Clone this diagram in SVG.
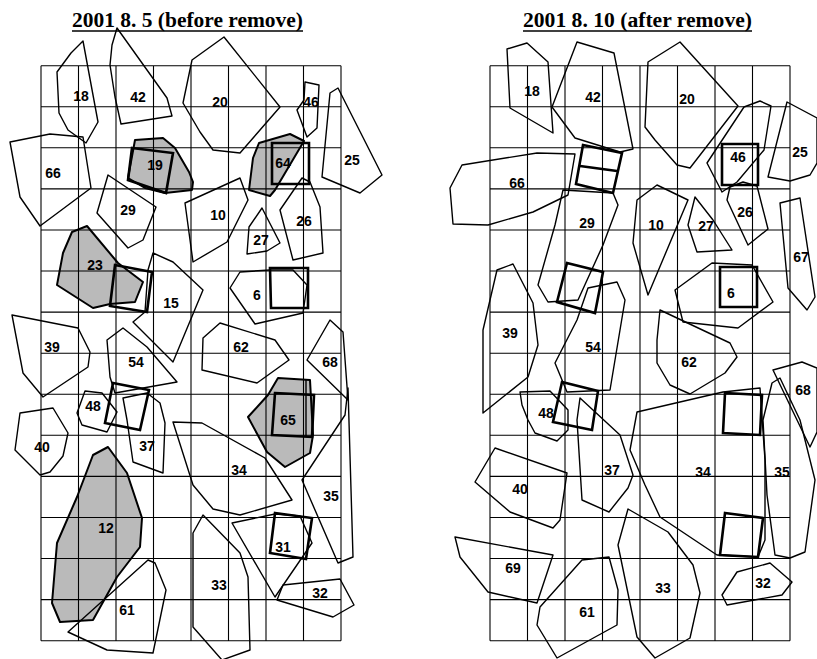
<svg xmlns="http://www.w3.org/2000/svg" width="817" height="659" viewBox="0 0 817 659">
<style>
.bg{fill:#fff}
.grid{fill:none;stroke:#000;stroke-width:1.1}
.p{fill:none;stroke:#000;stroke-width:1.4;stroke-linejoin:round}
.sh{fill:#000;fill-opacity:0.27;stroke:#000;stroke-width:2;stroke-linejoin:round}
.b{fill:none;stroke:#000;stroke-width:2.6;stroke-linejoin:miter}
.t{font-family:"Liberation Serif",serif;font-weight:bold;font-size:20px}
.n{font-family:"Liberation Sans",Arial,sans-serif;font-weight:bold;font-size:14px;text-anchor:middle}
.u{stroke:#000;stroke-width:1.5}
</style>
<rect class="bg" x="0" y="0" width="817" height="659"/>
<g id="titles">
<text class="t" x="72" y="27" textLength="231" lengthAdjust="spacingAndGlyphs">2001 8. 5 (before remove)</text>
<line class="u" x1="72" y1="31" x2="303" y2="31"/>
<text class="t" x="523" y="27" textLength="229" lengthAdjust="spacingAndGlyphs">2001 8. 10 (after remove)</text>
<line class="u" x1="523" y1="31" x2="752" y2="31"/>
</g>
<g id="grid-left">
<path class="grid" d="M41,65.7V640.7M78.5,65.7V640.7M116,65.7V640.7M153.5,65.7V640.7M191,65.7V640.7M228.5,65.7V640.7M266,65.7V640.7M303.5,65.7V640.7M341,65.7V640.7M41,65.7H341M41,106.8H341M41,147.8H341M41,188.9H341M41,230H341M41,271H341M41,312.1H341M41,353.2H341M41,394.3H341M41,435.3H341M41,476.4H341M41,517.5H341M41,558.5H341M41,599.6H341M41,640.7H341"/>
</g>
<g id="grid-right">
<path class="grid" d="M490,65.7V640.7M527.5,65.7V640.7M565,65.7V640.7M602.5,65.7V640.7M640,65.7V640.7M677.5,65.7V640.7M715,65.7V640.7M752.5,65.7V640.7M790,65.7V640.7M490,65.7H790M490,106.8H790M490,147.8H790M490,188.9H790M490,230H790M490,271H790M490,312.1H790M490,353.2H790M490,394.3H790M490,435.3H790M490,476.4H790M490,517.5H790M490,558.5H790M490,599.6H790M490,640.7H790"/>
</g>
<g id="left">
<g id="L18"><polygon class="p" points="83,41 98,122 86,143 68,130 59,113 57,72 71,53"/><text class="n" x="81" y="101">18</text></g>
<g id="L42"><polygon class="p" points="117,28 167,98 172,116 121,124 115,97 110,65 112,45"/><text class="n" x="138" y="102">42</text></g>
<g id="L20"><polygon class="p" points="224,37 280,107 240,153 213,150 200,132 183,103 192,60"/><text class="n" x="220" y="107">20</text></g>
<g id="L46"><polygon class="p" points="305,82 319,85 317,128 307,137 297,110 304,100"/><text class="n" x="311" y="107">46</text></g>
<g id="L25"><polygon class="p" points="338,88 382,175 360,193 322,177 330,93"/><text class="n" x="352" y="165">25</text></g>
<g id="L66"><polygon class="p" points="10,142 50,134 83,137 91,188 40,226 20,197"/><text class="n" x="53" y="178">66</text></g>
<g id="L19"><polygon class="sh" points="135,140 163,138 175,148 189,172 193,182 192,190 165,193 145,188 128,178"/><polygon class="b" points="132,148 173,153 166,193 128,180"/><text class="n" x="155" y="170">19</text></g>
<g id="L64"><polygon class="sh" points="259,143 290,134 304,141 275,190 270,196 249,190 253,158"/><polygon class="b" points="272,143 309,143 309,184 272,184"/><text class="n" x="283" y="168">64</text></g>
<g id="L29"><polygon class="p" points="108,175 156,207 143,240 128,248 97,213"/><text class="n" x="128" y="215">29</text></g>
<g id="L10"><polygon class="p" points="185,203 240,178 248,200 227,242 193,262"/><text class="n" x="218" y="220">10</text></g>
<g id="L26"><polygon class="p" points="302,178 310,182 320,207 323,253 293,260 280,210"/><text class="n" x="304" y="226">26</text></g>
<g id="L27"><polygon class="p" points="262,208 280,243 267,251 247,254 249,227"/><text class="n" x="261" y="245">27</text></g>
<g id="L23"><polygon class="sh" points="72,232 87,226 118,263 143,282 135,302 110,304 93,308 57,285 63,253"/><polygon class="b" points="115,265 152,272 147,312 110,306"/><text class="n" x="95" y="270">23</text></g>
<g id="L15"><polygon class="p" points="153,253 173,262 203,290 173,362 133,322 145,312 148,270"/><text class="n" x="171" y="308">15</text></g>
<g id="L6"><polygon class="p" points="230,288 240,272 270,270 293,270 307,285 303,313 255,324"/><polygon class="b" points="270,268 308,268 308,308 271,308"/><text class="n" x="257" y="300">6</text></g>
<g id="L39"><polygon class="p" points="12,315 78,328 90,352 88,367 43,397 23,373"/><text class="n" x="52" y="352">39</text></g>
<g id="L54"><polygon class="p" points="107,340 123,328 147,347 177,382 115,393 110,377"/><text class="n" x="136" y="367">54</text></g>
<g id="L62"><polygon class="p" points="203,338 220,323 275,340 289,360 257,383 202,370"/><text class="n" x="241" y="352">62</text></g>
<g id="L68"><polygon class="p" points="307,360 330,320 343,332 348,400"/><text class="n" x="330" y="367">68</text></g>
<g id="L65"><polygon class="sh" points="278,378 310,380 313,435 310,453 285,467 267,452 248,417 268,395"/><polygon class="b" points="275,393 314,395 312,437 272,435"/><line class="p" x1="306" y1="380" x2="306" y2="437"/><text class="n" x="288" y="425">65</text></g>
<g id="L48"><polygon class="p" points="85,391 102,393 117,412 107,432 82,425 77,413"/><text class="n" x="93" y="411">48</text></g>
<g id="L37"><polygon class="p" points="123,398 147,393 160,403 165,423 163,473 133,462 127,420"/><polygon class="b" points="113,383 149,390 140,430 105,423"/><text class="n" x="147" y="451">37</text></g>
<g id="L40"><polygon class="p" points="15,450 20,413 53,408 68,433 63,456 50,472 40,475"/><text class="n" x="42" y="452">40</text></g>
<g id="L34"><polygon class="p" points="173,422 202,423 265,458 292,500 240,515 213,509 193,485"/><text class="n" x="239" y="475">34</text></g>
<g id="L35"><polygon class="p" points="348,388 353,557 338,563 302,480 345,415"/><text class="n" x="331" y="501">35</text></g>
<g id="L12"><polygon class="sh" points="108,447 93,455 77,497 57,543 52,603 60,622 93,620 117,577 140,547 142,518 127,473"/><text class="n" x="106" y="533">12</text></g>
<g id="L31"><polygon class="p" points="232,523 275,514 300,516 312,543 275,597"/><polygon class="b" points="275,513 312,518 306,559 270,553"/><text class="n" x="283" y="552">31</text></g>
<g id="L32"><polygon class="p" points="277,600 283,585 340,579 354,605 333,617"/><text class="n" x="320" y="598">32</text></g>
<g id="L33"><polygon class="p" points="203,515 240,553 248,577 250,650 222,660 193,627 193,533"/><text class="n" x="219" y="590">33</text></g>
<g id="L61"><polygon class="p" points="68,632 148,560 155,563 166,590 153,653 107,650"/><text class="n" x="127" y="615">61</text></g>
</g>
<g id="right">
<g id="R18"><polygon class="p" points="507,49 527,43 548,62 553,133 510,108"/><text class="n" x="532" y="96">18</text></g>
<g id="R42"><polygon class="p" points="577,42 614,53 633,149 620,152 575,138 552,107"/><text class="n" x="593" y="102">42</text></g>
<g id="R20"><polygon class="p" points="680,42 738,106 690,168 677,165 655,140 645,127 648,62"/><text class="n" x="687" y="104">20</text></g>
<g id="R46"><polygon class="p" points="707,163 744,107 760,101 771,106 764,150 737,182 722,192"/><polygon class="b" points="722,144 758,144 758,185 722,185"/><text class="n" x="738" y="162">46</text></g>
<g id="R25"><polygon class="p" points="787,102 817,118 817,163 810,175 790,181 768,177"/><text class="n" x="800" y="157">25</text></g>
<g id="R66"><polygon class="p" points="450,188 462,165 537,153 575,154 568,195 533,212 488,225 453,224"/><text class="n" x="517" y="188">66</text></g>
<g id="R29"><polygon class="b" points="583,145 622,153 613,193 576,184"/><line class="b" x1="580" y1="166" x2="617" y2="171"/><polygon class="p" points="563,190 613,193 618,205 603,245 578,300 548,302 538,285 555,225"/><polygon class="b" points="567,263 603,272 595,313 557,302"/><text class="n" x="587" y="228">29</text></g>
<g id="R10"><polygon class="p" points="637,200 657,185 688,200 648,295 633,243"/><text class="n" x="656" y="230">10</text></g>
<g id="R27"><polygon class="p" points="695,197 713,220 732,250 697,252 688,225"/><text class="n" x="706" y="231">27</text></g>
<g id="R26"><polygon class="p" points="730,187 743,182 757,186 768,229 748,245 727,200"/><text class="n" x="745" y="217">26</text></g>
<g id="R67"><polygon class="p" points="780,203 800,198 815,297 807,310 788,288"/><text class="n" x="801" y="262">67</text></g>
<g id="R6"><polygon class="p" points="675,290 712,263 752,265 773,302 738,328 683,322"/><polygon class="b" points="720,267 757,267 757,307 720,307"/><text class="n" x="731" y="298">6</text></g>
<g id="R39"><polygon class="p" points="497,270 513,264 533,303 538,345 528,377 483,413 483,330"/><text class="n" x="510" y="338">39</text></g>
<g id="R54"><polygon class="p" points="588,288 617,282 625,300 610,390 567,392 555,363 577,320"/><text class="n" x="593" y="352">54</text></g>
<g id="R62"><polygon class="p" points="660,310 730,343 737,357 725,373 690,394 670,385 657,363 657,340"/><text class="n" x="689" y="367">62</text></g>
<g id="R68"><polygon class="p" points="773,370 802,362 817,368 817,432 810,447"/><text class="n" x="803" y="395">68</text></g>
<g id="R35"><polygon class="p" points="772,383 780,378 800,420 815,480 805,552 790,558 775,555 767,495 763,420"/><text class="n" x="782" y="477">35</text></g>
<g id="R48"><polygon class="p" points="520,392 550,391 568,410 568,430 557,441 535,433 528,420 522,405"/><polygon class="b" points="562,382 598,391 592,430 553,422"/><text class="n" x="546" y="418">48</text></g>
<g id="R37"><polygon class="p" points="580,398 620,435 633,475 628,488 609,512 582,500 577,420"/><text class="n" x="612" y="475">37</text></g>
<g id="R34"><polygon class="p" points="637,412 723,392 760,388 765,460 765,540 758,557 717,555 660,517 645,485 630,450"/><polygon class="b" points="725,393 762,395 760,435 723,433"/><polygon class="b" points="725,513 763,518 758,557 720,555"/><text class="n" x="703" y="477">34</text></g>
<g id="R40"><polygon class="p" points="495,448 567,473 560,520 553,528 510,512 475,482"/><text class="n" x="520" y="494">40</text></g>
<g id="R69"><polygon class="p" points="455,537 553,555 537,603 488,592 460,557"/><text class="n" x="513" y="573">69</text></g>
<g id="R61"><polygon class="p" points="582,560 609,557 618,590 617,625 557,658 537,625 540,607"/><text class="n" x="587" y="617">61</text></g>
<g id="R33"><polygon class="p" points="628,509 668,532 693,565 700,593 690,638 655,658 637,637 618,545"/><text class="n" x="663" y="593">33</text></g>
<g id="R32"><polygon class="p" points="737,572 770,563 792,582 782,595 727,605 722,595"/><text class="n" x="763" y="588">32</text></g>
</g>
</svg>
